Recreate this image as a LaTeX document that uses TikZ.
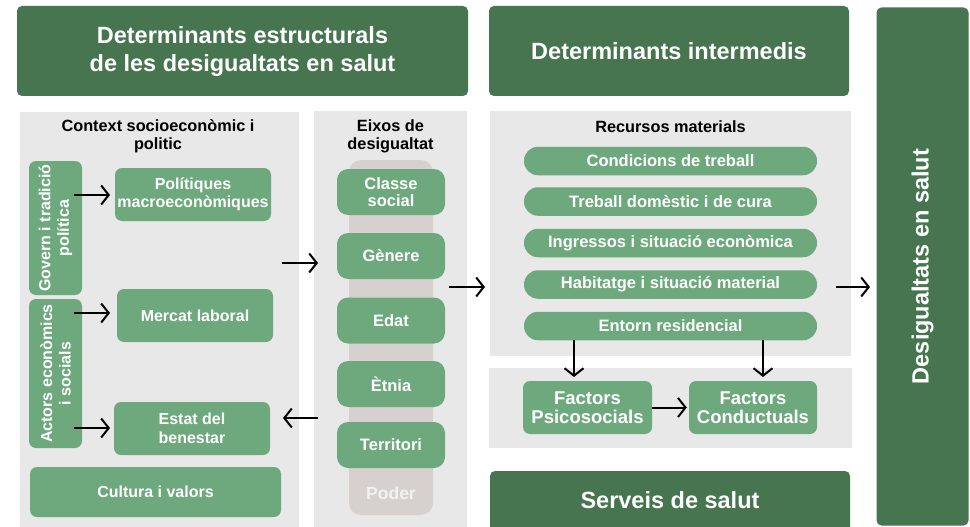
\documentclass[tikz,border=0pt]{standalone}
\usepackage{fontspec}
\setmainfont{Liberation Sans}
\usetikzlibrary{arrows.meta}
\definecolor{dgreen}{HTML}{46754F}
\definecolor{mgreen}{HTML}{6EA87D}
\definecolor{pgray}{HTML}{E8E8E8}
\definecolor{cgray}{HTML}{D6D1CE}
\definecolor{ptext}{HTML}{F4F2F0}
\begin{document}
\begin{tikzpicture}[x=1pt,y=-1pt,
  hdr/.style={fill=dgreen,rounded corners=5pt,inner sep=0pt,align=center,text=white,
    font=\fontsize{23.5}{28}\selectfont\bfseries},
  panel/.style={fill=pgray,inner sep=0pt},
  ttl/.style={inner sep=0pt,align=center,font=\fontsize{16.3}{18}\selectfont\bfseries},
  gbox/.style={fill=mgreen,rounded corners=7pt,inner sep=0pt,align=center,text=white,
    font=\fontsize{16}{18.5}\selectfont\bfseries},
  pill/.style={fill=mgreen,rounded corners=14pt,inner sep=0pt,align=center,text=white,
    minimum width=293pt,minimum height=28.5pt,font=\fontsize{16.5}{19}\selectfont\bfseries},
  ebox/.style={gbox,rounded corners=11pt,minimum width=108pt,minimum height=46pt,
    font=\fontsize{16.5}{17.5}\selectfont\bfseries},
  fbox/.style={gbox,minimum width=129pt,minimum height=53pt,
    font=\fontsize{18.5}{19}\selectfont\bfseries},
  arr/.style={-{Straight Barb[length=7.5pt,width=19pt]},line width=2pt,black},
]
\useasboundingbox (0,0) rectangle (970,527);
\fill[white] (0,0) rectangle (970,527);

% headers
\node[hdr,minimum width=451pt,minimum height=90pt] (h1) at (242.5,51) {Determinants estructurals\\de les desigualtats en salut};
\node[hdr,minimum width=360pt,minimum height=90pt] (h2) at (669,51) {Determinants intermedis};
\node[hdr,minimum width=518pt,minimum height=92pt,rotate=90] (des) at (922.5,266.5) {Desigualtats en salut};

% panels
\node[panel,minimum width=279pt,minimum height=420pt] (lp) at (159.5,322) {};
\node[panel,minimum width=153pt,minimum height=420pt] (mp) at (390.5,321) {};
\node[fill=cgray,rounded corners=12pt,inner sep=0pt,minimum width=84pt,minimum height=355pt] (col) at (391,337.5) {};
\node[panel,minimum width=361pt,minimum height=245pt] (rp) at (670.5,233.5) {};
\node[panel,minimum width=363pt,minimum height=80pt] (fp) at (670.5,408) {};
\node[hdr,minimum width=360pt,minimum height=64pt] (serv) at (670,503) {};
\node[inner sep=0pt,text=white,font=\fontsize{23.5}{28}\selectfont\bfseries] (servt) at (670,500) {Serveis de salut};

% titles
\node[ttl] (ctxt) at (158,136) {Context socioeconòmic i\\politic};
\node[ttl] (eixt) at (390.5,136) {Eixos de\\desigualtat};
\node[ttl] (rect) at (670.5,127) {Recursos materials};

% left panel boxes
\node[gbox,rotate=90,minimum width=134pt,minimum height=53pt] (gov) at (55.5,228) {Govern i tradició\\política};
\node[gbox,rotate=90,minimum width=149pt,minimum height=53pt] (act) at (55.5,373.5) {Actors econòmics\\i socials};
\node[gbox,minimum width=156pt,minimum height=53pt] (pol) at (193,194.5) {Polítiques\\macroeconòmiques};
\node[gbox,minimum width=156pt,minimum height=53pt] (mer) at (195,315.5) {Mercat laboral};
\node[gbox,minimum width=156pt,minimum height=53pt] (est) at (192,428.5) {Estat del\\benestar};
\node[gbox,minimum width=251pt,minimum height=50pt] (cul) at (155.5,492) {Cultura i valors};

% axes
\node[ebox] (cla) at (391,192) {Classe\\social};
\node[ebox] (gen) at (391,256) {Gènere};
\node[ebox] (eda) at (391,320.5) {Edat};
\node[ebox] (etn) at (391,384) {Ètnia};
\node[ebox] (ter) at (391,445) {Territori};
\node[inner sep=0pt,text=ptext,font=\fontsize{17.5}{20}\selectfont\bfseries] (pod) at (391,493) {Poder};

% material resources
\node[pill] (p1) at (670.5,161) {Condicions de treball};
\node[pill] (p2) at (670.5,201.5) {Treball domèstic i de cura};
\node[pill] (p3) at (670.5,243) {Ingressos i situació econòmica};
\node[pill] (p4) at (670.5,284.5) {Habitatge i situació material};
\node[pill] (p5) at (670.5,326) {Entorn residencial};

\node[fbox] (psi) at (587.5,407.5) {Factors\\Psicosocials};
\node[fbox,minimum width=128pt] (con) at (753,407.5) {Factors\\Conductuals};

% connector end points
\coordinate (g1) at (74,195);   \coordinate (g2) at (110,195);
\coordinate (a1) at (74,313);   \coordinate (a2) at (110,313);
\coordinate (a3) at (74,428);   \coordinate (a4) at (110,428);
\coordinate (l1) at (282,263);  \coordinate (l2) at (318,263);
\coordinate (m1) at (318,418);  \coordinate (m2) at (283,418);
\coordinate (r1) at (449,287);  \coordinate (r2) at (485,287);
\coordinate (d1) at (836,287);  \coordinate (d2) at (870,287);
\coordinate (e1) at (574,340);  \coordinate (e2) at (574,377);
\coordinate (e3) at (763,340);  \coordinate (e4) at (763,377);

\draw[arr] (g1) -- (g2);
\draw[arr] (a1) -- (a2);
\draw[arr] (a3) -- (a4);
\draw[arr] (l1) -- (l2);
\draw[arr] (m1) -- (m2);
\draw[arr] (r1) -- (r2);
\draw[arr] (d1) -- (d2);
\draw[arr] (e1) -- (e2);
\draw[arr] (e3) -- (e4);
\draw[arr] (psi.east) -- ([xshift=-2pt]con.west);
\end{tikzpicture}
\end{document}
